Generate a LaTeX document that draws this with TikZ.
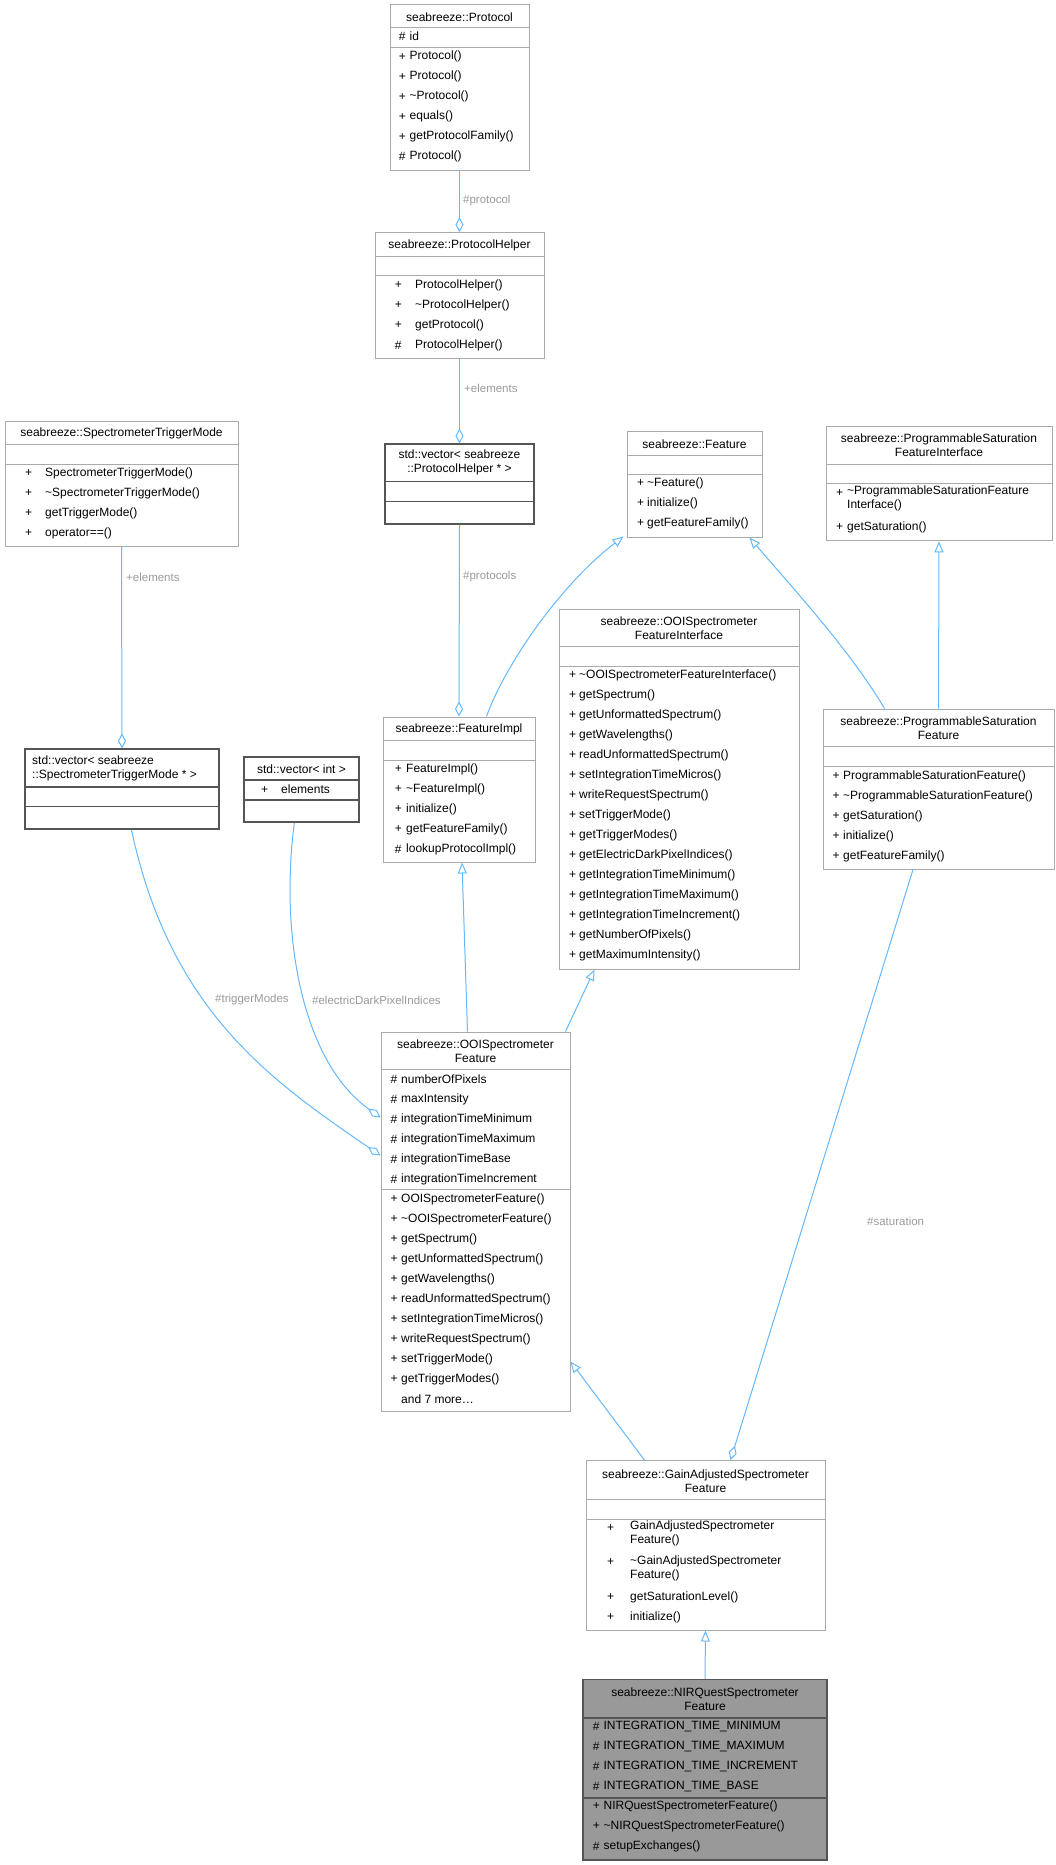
\documentclass[tikz,border=0pt]{standalone}
\usepackage{fontspec}
\setmainfont{Liberation Sans}
\usetikzlibrary{arrows.meta,calc,fit}

\definecolor{boxgray}{HTML}{AAAAAA}
\definecolor{vecgray}{HTML}{555555}
\definecolor{edgeblue}{HTML}{63B8FF}
\definecolor{labelgray}{HTML}{9A9A9A}
\definecolor{hotfill}{HTML}{999999}

\tikzset{
  classbox/.style={draw=boxgray, line width=1pt, inner sep=0pt},
  vecbox/.style={draw=vecgray, line width=1.2pt, inner sep=0pt},
  hotbox/.style={draw=vecgray, fill=hotfill, line width=1.2pt, inner sep=0pt},
  sepline/.style={boxgray, line width=1pt},
  txt/.style={inner sep=0pt, font=\fontsize{12}{14}\selectfont},
  member/.style={txt, anchor=west},
  title/.style={txt, align=center},
  edgelabel/.style={inner sep=0pt, anchor=west, text=labelgray, font=\fontsize{11.5}{13}\selectfont},
  inherit/.style={draw=edgeblue, line width=1pt, -{Triangle[open, length=11pt, width=9pt]}},
  aggr/.style={draw=edgeblue, line width=1pt, -{Diamond[open, length=15pt, width=8pt]}}
}

% members: sign x, text x, first row y, list sign/text
\newcommand{\members}[4]{%
  \foreach \s/\t [count=\i from 0] in {#4}
    {\node[member] at (#1,#3+20*\i) {\s};
     \node[member] at (#2,#3+20*\i) {\t};}}
% separators across a box
\newcommand{\seps}[3]{%
  \foreach \yy in {#3} \draw[sepline] (#1,\yy) -- (#2,\yy);}

\begin{document}
\begin{tikzpicture}[x=1pt, y=-1pt]
  \useasboundingbox (0,0) rectangle (1055,1865);

  % Protocol
  \node[classbox, fit={(390,4.6) (529,170)}] (protocol) {};
  \seps{390}{529}{27.6,47.8}
  \node[title] at (459.5,16.8) {seabreeze::Protocol};
  \members{398.6}{409.5}{36.7}{\#/id}
  \members{398.6}{409.5}{56.6}{+/Protocol(), +/Protocol(), +/\textasciitilde Protocol(), +/equals(), +/getProtocolFamily(), \#/Protocol()}

  % ProtocolHelper
  \node[classbox, fit={(375,232.7) (544,358.6)}] (helper) {};
  \seps{375}{544}{256.4,275.5}
  \node[title] at (459.5,245) {seabreeze::ProtocolHelper};
  \members{394.6}{415}{285}{+/ProtocolHelper(), +/\textasciitilde ProtocolHelper(), +/getProtocol(), \#/ProtocolHelper()}

  % vector of ProtocolHelper
  \node[vecbox, fit={(385,444) (534,524)}] (helpervec) {};
  \draw[vecgray, line width=1.2pt] (385,481.5) -- (534,481.5) (385,501.4) -- (534,501.4);
  \node[title] at (459.5,462.5) {std::vector< seabreeze\\::ProtocolHelper * >};

  % SpectrometerTriggerMode
  \node[classbox, fit={(5,421) (238,546.5)}] (trigger) {};
  \seps{5}{238}{444,464}
  \node[title] at (121.5,433) {seabreeze::SpectrometerTriggerMode};
  \members{25}{45}{473}{+/SpectrometerTriggerMode(), +/\textasciitilde SpectrometerTriggerMode(), +/getTriggerMode(), +/operator==()}

  % Feature
  \node[classbox, fit={(627,431) (762,537)}] (feature) {};
  \seps{627}{762}{455,474.6}
  \node[title] at (694.5,444) {seabreeze::Feature};
  \members{637}{647}{483}{+/\textasciitilde Feature(), +/initialize(), +/getFeatureFamily()}

  % ProgrammableSaturationFeatureInterface
  \node[classbox, fit={(826,426.7) (1052,540.8)}] (satiface) {};
  \seps{826}{1052}{464,483}
  \node[title] at (939,445.5) {seabreeze::ProgrammableSaturation\\FeatureInterface};
  \node[member] at (836,493) {+};
  \node[member, align=left, anchor=north west] at (847,486) {\textasciitilde ProgrammableSaturationFeature\\Interface()};
  \members{836}{847}{527}{+/getSaturation()}

  % vector of SpectrometerTriggerMode
  \node[vecbox, fit={(25,749) (219,829)}] (triggervec) {};
  \draw[vecgray, line width=1.2pt] (25,787) -- (219,787) (25,806.5) -- (219,806.5);
  \node[title, align=left, anchor=west] at (32,768.5) {std::vector< seabreeze\\::SpectrometerTriggerMode * >};

  % vector of int
  \node[vecbox, fit={(244,757) (359,822)}] (intvec) {};
  \draw[vecgray, line width=1.2pt] (244,780) -- (359,780) (244,800) -- (359,800);
  \node[title] at (301.5,769) {std::vector< int >};
  \members{261}{281}{789.6}{+/elements}

  % FeatureImpl
  \node[classbox, fit={(383,717) (535,862)}] (featimpl) {};
  \seps{383}{535}{740.5,760}
  \node[title] at (459,729) {seabreeze::FeatureImpl};
  \members{394.6}{406}{769}{+/FeatureImpl(), +/\textasciitilde FeatureImpl(), +/initialize(), +/getFeatureFamily(), \#/lookupProtocolImpl()}

  % OOISpectrometerFeatureInterface
  \node[classbox, fit={(559,609) (799,969)}] (ooiface) {};
  \seps{559}{799}{646.5,666}
  \node[title] at (679,628.5) {seabreeze::OOISpectrometer\\FeatureInterface};
  \members{569}{579}{675.5}{+/\textasciitilde OOISpectrometerFeatureInterface(), +/getSpectrum(), +/getUnformattedSpectrum(), +/getWavelengths(), +/readUnformattedSpectrum(), +/setIntegrationTimeMicros(), +/writeRequestSpectrum(), +/setTriggerMode(), +/getTriggerModes(), +/getElectricDarkPixelIndices(), +/getIntegrationTimeMinimum(), +/getIntegrationTimeMaximum(), +/getIntegrationTimeIncrement(), +/getNumberOfPixels(), +/getMaximumIntensity()}

  % ProgrammableSaturationFeature
  \node[classbox, fit={(823,709) (1054,869)}] (satfeat) {};
  \seps{823}{1054}{746,766}
  \node[title] at (938.5,728) {seabreeze::ProgrammableSaturation\\Feature};
  \members{832.4}{843}{776}{+/ProgrammableSaturationFeature(), +/\textasciitilde ProgrammableSaturationFeature(), +/getSaturation(), +/initialize(), +/getFeatureFamily()}

  % OOISpectrometerFeature
  \node[classbox, fit={(381,1032) (570,1411.5)}] (ooifeat) {};
  \seps{381}{570}{1069,1189}
  \node[title] at (475.5,1051.5) {seabreeze::OOISpectrometer\\Feature};
  \members{390.5}{401}{1079}{\#/numberOfPixels, \#/maxIntensity, \#/integrationTimeMinimum, \#/integrationTimeMaximum, \#/integrationTimeBase, \#/integrationTimeIncrement}
  \members{390.5}{401}{1199}{+/OOISpectrometerFeature(), +/\textasciitilde OOISpectrometerFeature(), +/getSpectrum(), +/getUnformattedSpectrum(), +/getWavelengths(), +/readUnformattedSpectrum(), +/setIntegrationTimeMicros(), +/writeRequestSpectrum(), +/setTriggerMode(), +/getTriggerModes()}
  \node[member] at (401,1399) {and 7 more\ldots};

  % GainAdjustedSpectrometerFeature
  \node[classbox, fit={(586,1460.6) (825,1630)}] (gainfeat) {};
  \seps{586}{825}{1499,1519}
  \node[title] at (705.5,1481) {seabreeze::GainAdjustedSpectrometer\\Feature};
  \node[member] at (607,1528) {+};
  \node[member, align=left, anchor=north west] at (630,1521) {GainAdjustedSpectrometer\\Feature()};
  \node[member] at (607,1562.5) {+};
  \node[member, align=left, anchor=north west] at (630,1555.5) {\textasciitilde GainAdjustedSpectrometer\\Feature()};
  \members{607}{630}{1597.5}{+/getSaturationLevel(), +/initialize()}

  % NIRQuestSpectrometerFeature
  \node[hotbox, fit={(583,1679.4) (827,1860)}] (nirquest) {};
  \draw[vecgray, line width=1.2pt] (583,1718) -- (827,1718) (583,1798) -- (827,1798);
  \node[title] at (705,1699.5) {seabreeze::NIRQuestSpectrometer\\Feature};
  \members{592.6}{603.4}{1726.5}{\#/INTEGRATION\_TIME\_MINIMUM, \#/INTEGRATION\_TIME\_MAXIMUM, \#/INTEGRATION\_TIME\_INCREMENT, \#/INTEGRATION\_TIME\_BASE}
  \members{592.6}{603.4}{1806.5}{+/NIRQuestSpectrometerFeature(), +/\textasciitilde NIRQuestSpectrometerFeature(), \#/setupExchanges()}

  % connectors
  \draw[aggr] (protocol.south) -- (helper.north);
  \node[edgelabel] at (463,201) {\#protocol};
  \draw[aggr] (helper.south) -- (helpervec.north);
  \node[edgelabel] at (464,388) {+elements};
  \draw[aggr] (helpervec.south) -- (featimpl.north);
  \node[edgelabel] at (463,577) {\#protocols};
  \draw[aggr] (trigger.south) -- (triggervec.north);
  \node[edgelabel] at (126,577) {+elements};

  \draw[inherit] ($(featimpl.north)+(27.5,0)$) .. controls (505,665) and (560,585) .. ($(feature.south west)+(-3,-1)$);
  \draw[inherit] ($(satfeat.north west)+(62,0)$) .. controls (850,650) and (790,585) .. ($(feature.south west)+(123,0)$);
  \draw[inherit] (satfeat.north) -- (satiface.south);

  \draw[inherit] ($(ooifeat.north)+(-8,0)$) -- ($(featimpl.south)+(3,0)$);
  \draw[inherit] ($(ooifeat.north east)+(-5,0)$) -- ($(ooiface.south west)+(36,0)$);

  \draw[aggr] ($(triggervec.south west)+(107,0)$) .. controls (170,1010) and (270,1080) .. ($(ooifeat.north west)+(0,124)$);
  \node[edgelabel] at (215,1000) {\#triggerModes};
  \draw[aggr] ($(intvec.south west)+(51,0)$) .. controls (280,930) and (300,1060) .. ($(ooifeat.north west)+(0,86)$);
  \node[edgelabel] at (312,1000) {\#electricDarkPixelIndices};

  \draw[inherit] ($(gainfeat.north west)+(59,0)$) -- ($(ooifeat.north east)+(0,330)$);
  \draw[aggr] ($(satfeat.south west)+(90.5,0)$) -- ($(gainfeat.north west)+(145,0)$);
  \node[edgelabel] at (867,1221) {\#saturation};
  \draw[inherit] (nirquest.north) -- (gainfeat.south);
\end{tikzpicture}
\end{document}
